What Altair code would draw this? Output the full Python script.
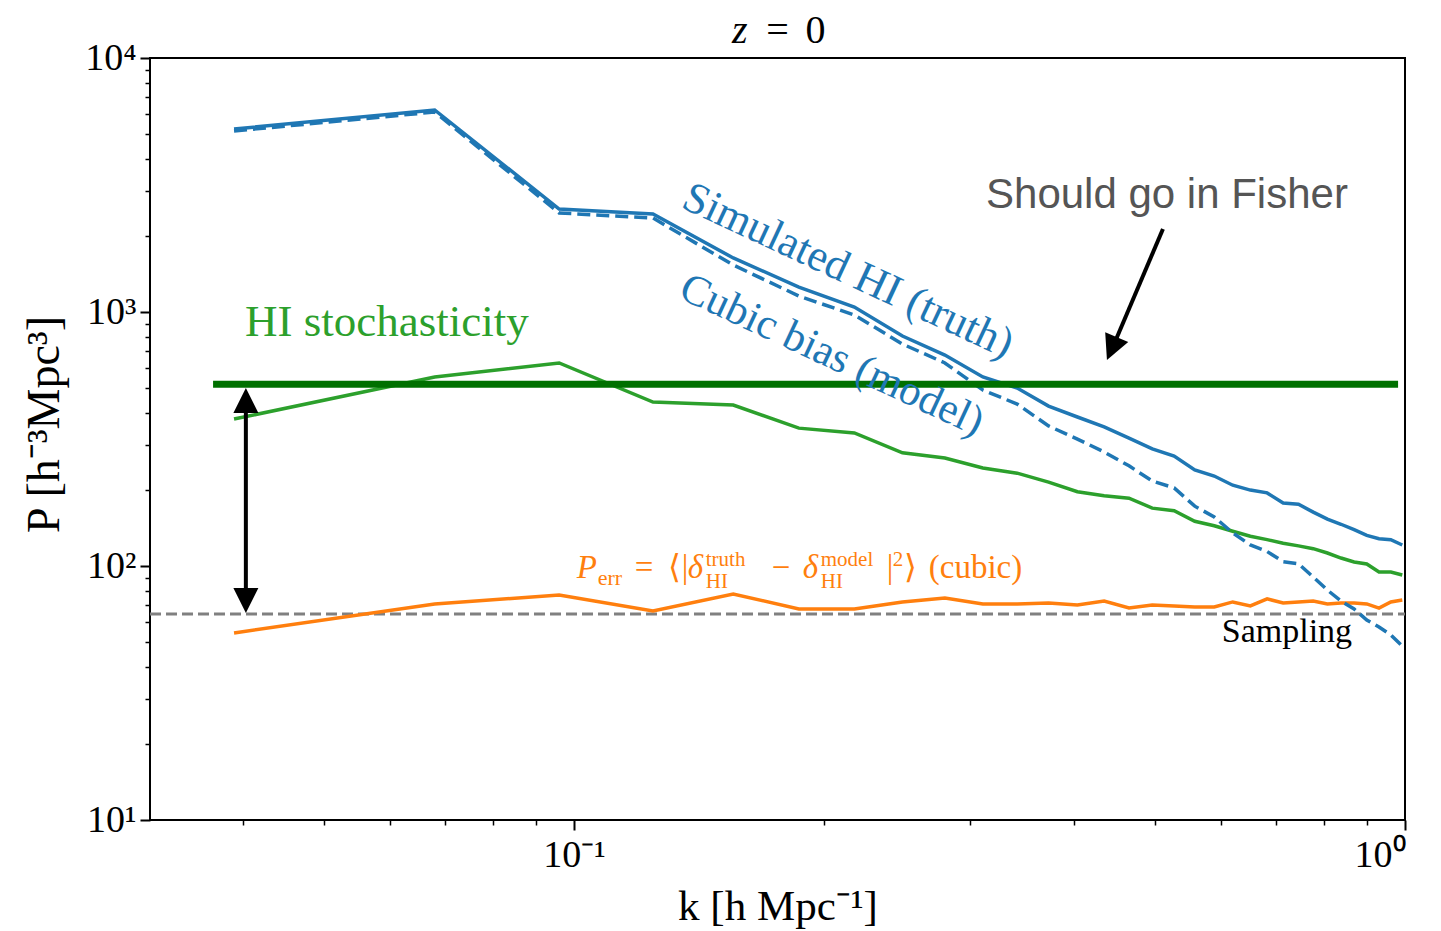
import altair as alt
import pandas as pd

FONT = "Liberation Serif"

# ---- data ----
k = [0.039, 0.068, 0.096, 0.1245, 0.1555, 0.1865, 0.2175, 0.2485, 0.2795, 0.3105,
     0.3415, 0.3725, 0.4035, 0.4345, 0.4655, 0.4965, 0.5275, 0.5585, 0.5895, 0.6205,
     0.6515, 0.6825, 0.7135, 0.7445, 0.7755, 0.8065, 0.8375, 0.8685, 0.8995, 0.9305,
     0.9615, 0.9925]
p_truth = [5254, 6242, 2544, 2431, 1632, 1254, 1046, 804, 677, 555,
           502, 426, 386, 353, 319, 289, 271, 239, 226, 208,
           199, 194, 177, 175, 163, 153, 146, 139, 132, 128, 127, 121]
p_model = [5159, 6130, 2454, 2345, 1531, 1156, 973, 748, 630, 493,
           434, 356, 316, 281, 248, 216, 203, 172, 156, 135,
           121, 114, 104, 102, 90.5, 80.4, 72.8, 67.7, 61.3, 57.5, 53.5, 48.4]
p_stoch = [379, 555, 630, 442, 430, 349, 334, 279, 266, 243,
           232, 214, 196, 189, 185, 169, 165, 150, 144, 137,
           131, 127, 123, 120, 117, 112.5, 107.5, 103.7, 101.8, 94.7, 94.7, 92.2]
p_err = [54.5, 70.9, 76.9, 66.5, 77.6, 67.7, 67.7, 72.2, 74.8, 70.9,
         70.9, 71.5, 70.2, 72.8, 68.3, 70.2, 69.6, 69.0, 69.0, 72.2,
         69.6, 74.2, 71.5, 72.2, 72.8, 70.9, 71.5, 71.5, 70.9, 68.3, 72.2, 73.5]

sampling_level = 64.7
stoch_level = 520.0
stoch_k_range = [0.0368, 0.981]
k_domain = [0.0309, 1.0]
p_domain = [10, 10000]

x_major = [0.1, 1.0]
x_minor = [0.04, 0.05, 0.06, 0.07, 0.08, 0.09, 0.2, 0.3, 0.4, 0.5, 0.6, 0.7, 0.8, 0.9]
y_major = [10, 100, 1000, 10000]
y_minor = [20, 30, 40, 50, 60, 70, 80, 90, 200, 300, 400, 500, 600, 700, 800, 900,
           2000, 3000, 4000, 5000, 6000, 7000, 8000, 9000]

n = len(k)
df = pd.DataFrame({
    "k": k * 4,
    "P": p_truth + p_model + p_stoch + p_err,
    "series": ["truth"] * n + ["model"] * n + ["stoch"] * n + ["err"] * n,
})

xs = alt.Scale(type="log", domain=k_domain, nice=False)
ys = alt.Scale(type="log", domain=p_domain, nice=False)

BLUE, ORANGE, GREEN, DKGREEN = "#1f77b4", "#ff7f0e", "#2ca02c", "#007000"


def enc(chart, xaxis=None, yaxis=None):
    return chart.encode(
        x=alt.X("k:Q", scale=xs, axis=xaxis),
        y=alt.Y("P:Q", scale=ys, axis=yaxis),
    )


x_axis_major = alt.Axis(
    orient="bottom", values=x_major,
    labelExpr="datum.value < 0.5 ? '10⁻¹' : '10⁰'",
    tickSize=10, tickWidth=2, tickColor="black", domain=False, grid=False,
    labelFont=FONT, labelFontSize=38, labelColor="black", labelPadding=6,
    title="k [h Mpc⁻¹]", titleFont=FONT, titleFontSize=43, titleFontWeight="normal",
    titleColor="black", titleY=86, titleBaseline="middle",
)
y_axis_major = alt.Axis(
    orient="left", values=y_major,
    labelExpr="datum.value < 50 ? '10¹' : datum.value < 500 ? '10²' : datum.value < 5000 ? '10³' : '10⁴'",
    tickSize=10, tickWidth=2, tickColor="black", domain=False, grid=False,
    labelFont=FONT, labelFontSize=38, labelColor="black", labelPadding=4,
    title="P [h⁻³Mpc³]", titleFont=FONT, titleFontSize=46, titleFontWeight="normal",
    titleColor="black", titleX=-106, titleY=366, titleBaseline="middle",
)
x_axis_minor = alt.Axis(orient="bottom", values=x_minor, labels=False, tickSize=5,
                        tickWidth=1.5, tickColor="black", domain=False, grid=False, title="")
y_axis_minor = alt.Axis(orient="left", values=y_minor, labels=False, tickSize=5,
                        tickWidth=1.5, tickColor="black", domain=False, grid=False, title="")

base = alt.Chart(df)

truth = enc(base.transform_filter(alt.datum.series == "truth")
            .mark_line(color=BLUE, strokeWidth=3.5), x_axis_major, y_axis_major)
model = enc(base.transform_filter(alt.datum.series == "model")
            .mark_line(color=BLUE, strokeWidth=3.5, strokeDash=[13, 6]))
stoch = enc(base.transform_filter(alt.datum.series == "stoch")
            .mark_line(color=GREEN, strokeWidth=3.5))
err = enc(base.transform_filter(alt.datum.series == "err")
          .mark_line(color=ORANGE, strokeWidth=3.5))

samp_df = pd.DataFrame({"k": k_domain, "P": [sampling_level, sampling_level]})
sampling = enc(alt.Chart(samp_df).mark_line(color="#808080", strokeWidth=3, strokeDash=[11, 5]),
               x_axis_minor, y_axis_minor)

bar_df = pd.DataFrame({"k": stoch_k_range, "P": [stoch_level, stoch_level]})
bar = enc(alt.Chart(bar_df).mark_line(color=DKGREEN, strokeWidth=7, strokeCap="butt"))

# double arrow between stochasticity level and sampling level
arrow_k = 0.0403
shaft_df = pd.DataFrame({"k": [arrow_k, arrow_k], "P": [419, 78.3]})
shaft = enc(alt.Chart(shaft_df).mark_line(color="black", strokeWidth=4, strokeCap="butt"))

# Fisher arrow
fshaft_df = pd.DataFrame({"k": [0.5114, 0.4477], "P": [2123, 762]})
fshaft = enc(alt.Chart(fshaft_df).mark_line(color="black", strokeWidth=4, strokeCap="butt"))

heads_df = pd.DataFrame({"k": [arrow_k, arrow_k, 0.4379], "P": [502, 65.3, 647],
                         "ang": [0, 180, 203]})
heads = alt.Chart(heads_df).mark_point(
    shape="M0,0L0.5,1L-0.5,1Z", filled=True, color="black", opacity=1, size=2500, strokeWidth=0
).encode(
    x=alt.X("k:Q", scale=xs, axis=None),
    y=alt.Y("P:Q", scale=ys, axis=None),
    angle=alt.Angle("ang:Q", scale=None),
)


def label(text, kk, pp, color, size, angle=0, align="center", baseline="middle",
          font=FONT, style="normal", dx=0, dy=0):
    d = pd.DataFrame({"k": [kk], "P": [pp], "t": [text]})
    return alt.Chart(d).mark_text(
        color=color, fontSize=size, angle=angle, align=align, baseline=baseline,
        font=font, fontStyle=style, dx=dx, dy=dy
    ).encode(
        x=alt.X("k:Q", scale=xs, axis=None),
        y=alt.Y("P:Q", scale=ys, axis=None),
        text="t:N",
    )


texts = [
    label("Simulated HI (truth)", 0.2137, 1450, BLUE, 44, angle=25),
    label("Cubic bias (model)", 0.2044, 677, BLUE, 43, angle=25),
    label("HI stochasticity", 0.0402, 804, GREEN, 45, align="left", baseline="alphabetic"),
    label("Should go in Fisher", 0.5171, 2567, "#555555", 42, baseline="alphabetic",
          font="Liberation Sans"),
    label("Sampling", 0.721, 50.2, "black", 34, baseline="alphabetic"),
]

# title "z = 0" placed above the plot (centre of the log x range)
title_k, title_p = 0.1758, 11458
texts += [
    label("z", title_k, title_p, "black", 40, align="right", baseline="alphabetic",
          style="italic", dx=-30),
    label("=", title_k, title_p, "black", 40, baseline="alphabetic"),
    label("0", title_k, title_p, "black", 40, align="left", baseline="alphabetic", dx=28),
]

# P_err formula, built piece by piece
err_k, err_p = 0.1008, 89.7
pieces = [
    ("P", 0, 0, 33, "italic"),
    ("err", 21, 7, 22, "normal"),
    ("=", 58, 0, 33, "normal"),
    ("⟨", 91, 0, 33, "normal"),
    ("|", 105, 0, 33, "normal"),
    ("δ", 111, 0, 33, "italic"),
    ("truth", 129, -12, 21, "normal"),
    ("HI", 129, 10, 21, "normal"),
    ("−", 195, 0, 33, "normal"),
    ("δ", 226, 0, 33, "italic"),
    ("model", 244, -12, 21, "normal"),
    ("HI", 244, 10, 21, "normal"),
    ("|", 310, 0, 33, "normal"),
    ("2", 316, -12, 21, "normal"),
    ("⟩", 327, 0, 33, "normal"),
    ("(cubic)", 352, 0, 33, "normal"),
]
for t, dx, dy, sz, st in pieces:
    texts.append(label(t, err_k, err_p, ORANGE, sz, align="left", baseline="alphabetic",
                       style=st, dx=dx, dy=dy))

chart = alt.layer(
    sampling, stoch, err, model, truth, bar, shaft, fshaft, heads, *texts
).resolve_axis(
    x="independent", y="independent"
).properties(
    width=1255, height=762,
    padding={"left": 150, "top": 58, "right": 36, "bottom": 111},
    autosize=alt.AutoSizeParams(type="none"),
    background="white",
).configure_view(
    stroke="black", strokeWidth=2
)

chart.save("out.html", embed_options={"renderer": "svg", "actions": False})
